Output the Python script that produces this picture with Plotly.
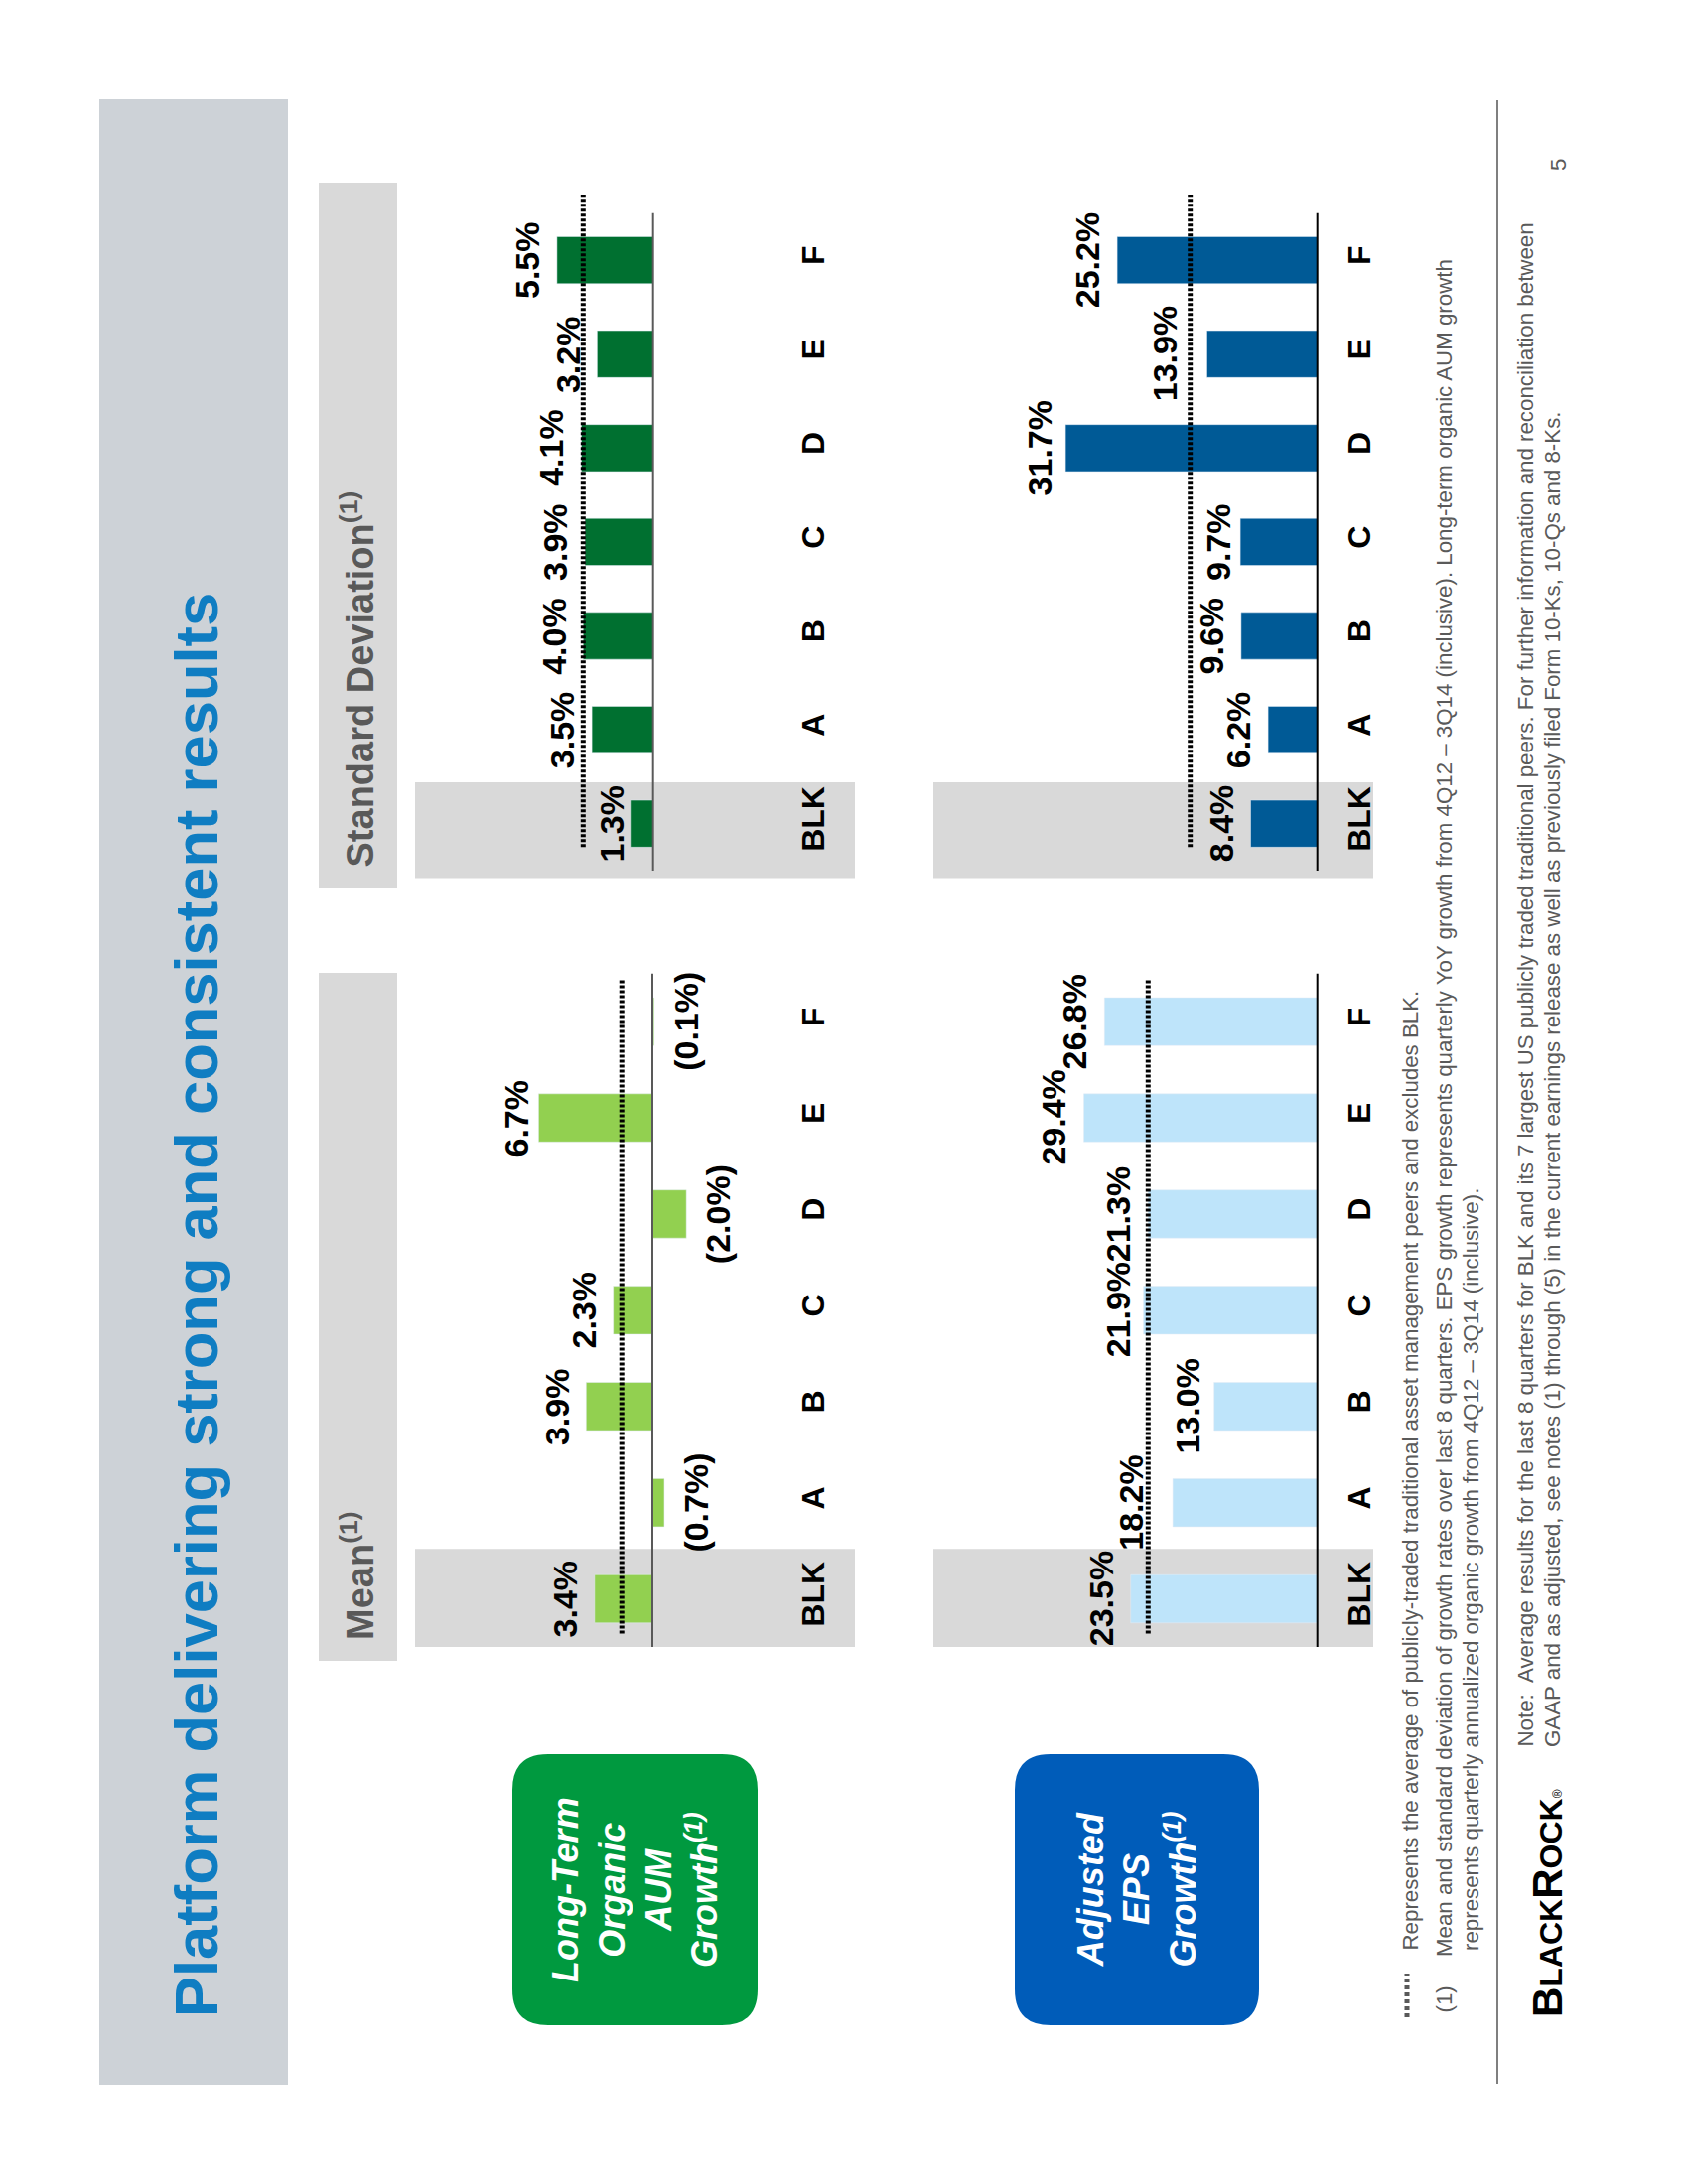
import plotly.graph_objects as go

# ---------------- data ----------------
categories = ["BLK", "A", "B", "C", "D", "E", "F"]
aum_mean = [3.4, -0.7, 3.9, 2.3, -2.0, 6.7, -0.1]
aum_std = [1.3, 3.5, 4.0, 3.9, 4.1, 3.2, 5.5]
eps_mean = [23.5, 18.2, 13.0, 21.9, 21.3, 29.4, 26.8]
eps_std = [8.4, 6.2, 9.6, 9.7, 31.7, 13.9, 25.2]
aum_mean_peer_avg = 1.8
aum_std_peer_avg = 4.0
eps_mean_peer_avg = 21.3
eps_std_peer_avg = 16.0

title_text = "Platform delivering strong and consistent results"
col_headers = ["Mean<sup>(1)</sup>", "Standard Deviation<sup>(1)</sup>"]
row_labels = ["Long-Term<br>Organic<br>AUM<br>Growth<sup>(1)</sup>", "Adjusted<br>EPS<br>Growth<sup>(1)</sup>"]
footnote_avg = "Represents the average of publicly-traded traditional asset management peers and excludes BLK."
footnote_1a = ("Mean and standard deviation of growth rates over last 8 quarters. EPS growth represents quarterly "
               "YoY growth from 4Q12 \u2013 3Q14 (inclusive). Long-term organic AUM growth")
footnote_1b = "represents quarterly annualized organic growth from 4Q12 \u2013 3Q14 (inclusive)."
note_a = ("Note:  Average results for the last 8 quarters for BLK and its 7 largest US publicly traded traditional "
          "peers. For further information and reconciliation between")
note_b = ("GAAP and as adjusted, see notes (1) through (5) in the current earnings release as well as previously "
          "filed Form 10-Ks, 10-Qs and 8-Ks.")
page_number = "5"

# ---------------- geometry helpers ----------------
W, H, M = 1700, 2200, 8
FONT = "Liberation Sans, Arial, Helvetica, sans-serif"


def X(px):
    return (px - M) / W


def Y(py):
    return 1 - (py - M) / H


def fmt(v):
    return f"{v:.1f}%" if v >= 0 else f"({abs(v):.1f}%)"


fig = go.Figure()
shapes = []
annotations = []

# title band
shapes.append(dict(type="rect", xref="paper", yref="paper", x0=X(100), x1=X(290), y0=Y(2100), y1=Y(100),
                   fillcolor="#CDD2D7", line=dict(width=0), layer="below"))
annotations.append(dict(xref="paper", yref="paper", x=X(197), y=Y(1315), text=f"<b>{title_text}</b>",
                        textangle=-90, showarrow=False, xanchor="center", yanchor="middle",
                        font=dict(family=FONT, size=61.5, color="#0F7DC2")))

# column headers
hdr_boxes = [(980, 1673), (184, 895)]
for txt, (y0, y1) in zip(col_headers, hdr_boxes):
    shapes.append(dict(type="rect", xref="paper", yref="paper", x0=X(321), x1=X(400), y0=Y(y1), y1=Y(y0),
                       fillcolor="#D9D9D9", line=dict(width=0), layer="below"))
    annotations.append(dict(xref="paper", yref="paper", x=X(360), y=Y(y1 - 19), text=f"<b>{txt}</b>",
                            textangle=-90, showarrow=False, xanchor="center", yanchor="bottom",
                            font=dict(family=FONT, size=38, color="#595959")))


# rounded row label boxes
def rounded(x0, y0, x1, y1, r):
    a, b, t, btm = X(x0), X(x1), Y(y0), Y(y1)
    rx, ry = r / W, r / H
    return (f"M {a+rx},{t} L {b-rx},{t} Q {b},{t} {b},{t-ry} L {b},{btm+ry} Q {b},{btm} {b-rx},{btm} "
            f"L {a+rx},{btm} Q {a},{btm} {a},{btm+ry} L {a},{t-ry} Q {a},{t} {a+rx},{t} Z")


row_boxes = [((516, 1767, 763, 2040), "#00993F"), ((1022, 1767, 1268, 2040), "#005CB9")]
for txt, ((x0, y0, x1, y1), col) in zip(row_labels, row_boxes):
    shapes.append(dict(type="path", xref="paper", yref="paper", path=rounded(x0, y0, x1, y1, 36),
                       fillcolor=col, line=dict(width=0), layer="below"))
    annotations.append(dict(xref="paper", yref="paper", x=X((x0 + x1) / 2), y=Y((y0 + y1) / 2),
                            text=f"<b><i>{txt}</i></b>", textangle=-90, showarrow=False,
                            xanchor="center", yanchor="middle",
                            font=dict(family=FONT, size=36, color="white")))

# ---------------- chart panels ----------------
mean_geom = dict(py_m05=1659, sp=96.9, yr=[-0.55, 6.55], box_y=[-0.5, 0.52], avg_y=[-0.36, 6.45])
std_geom = dict(py_m05=877, sp=94.6, yr=[-0.6, 6.75], box_y=[-0.58, 0.44], avg_y=[-0.25, 6.7])
aum_row = dict(xL=418, xR=783, boxL=418, boxR=861)
eps_row = dict(xL=940, xR=1333, boxL=940, boxR=1383)

# extra gap (px) between a value label and its bar end, where the slide moved a label
label_nudge = {(0, "E"): -8, (1, "BLK"): -11, (2, "A"): 12, (2, "B"): -3, (2, "C"): -4,
               (3, "C"): -8, (3, "D"): -4, (3, "E"): 13}

panels = [
    dict(vals=aum_mean, avg=aum_mean_peer_avg, color="#92D050", base=657.0, scale=17.1, row=aum_row,
         geom=mean_geom, basecol="#595959"),
    dict(vals=aum_std, avg=aum_std_peer_avg, color="#007030", base=657.7, scale=17.6, row=aum_row,
         geom=std_geom, basecol="#595959"),
    dict(vals=eps_mean, avg=eps_mean_peer_avg, color="#BEE4FA", base=1326.7, scale=8.0, row=eps_row,
         geom=mean_geom, basecol="#000000"),
    dict(vals=eps_std, avg=eps_std_peer_avg, color="#005A96", base=1326.7, scale=8.0, row=eps_row,
         geom=std_geom, basecol="#000000"),
]

layout_axes = {}
for i, p in enumerate(panels, start=1):
    sx = "" if i == 1 else str(i)
    xa, ya = f"x{sx}", f"y{sx}"
    r, g = p["row"], p["geom"]
    xr = [(p["base"] - r["xL"]) / p["scale"], -(r["xR"] - p["base"]) / p["scale"]]

    def pyi(idx, g=g):
        return g["py_m05"] - (idx + 0.5) * g["sp"]

    layout_axes[f"xaxis{sx}"] = dict(domain=[X(r["xL"]), X(r["xR"])], range=xr, anchor=ya,
                                     showgrid=False, zeroline=False, showticklabels=False,
                                     showline=False, ticks="", fixedrange=True)
    layout_axes[f"yaxis{sx}"] = dict(domain=[Y(pyi(g["yr"][0])), Y(pyi(g["yr"][1]))], range=g["yr"],
                                     anchor=xa, side="right", type="category",
                                     categoryorder="array", categoryarray=categories,
                                     showgrid=False, zeroline=False, showline=False, ticks="",
                                     tickangle=-90, ticklabelstandoff=14,
                                     tickfont=dict(family=FONT, size=32, color="black", weight="bold"),
                                     fixedrange=True)

    fig.add_trace(go.Bar(x=p["vals"], y=categories, orientation="h", marker=dict(color=p["color"]),
                         width=0.5, xaxis=xa, yaxis=ya, hoverinfo="x+y", showlegend=False))

    # BLK highlight box
    shapes.append(dict(type="rect", xref="paper", yref=ya, x0=X(r["boxL"]), x1=X(r["boxR"]),
                       y0=g["box_y"][0], y1=g["box_y"][1], fillcolor="#D9D9D9",
                       line=dict(width=0), layer="below"))
    # baseline
    shapes.append(dict(type="line", xref=xa, yref=ya, x0=0, x1=0, y0=-0.5, y1=6.5,
                       line=dict(color=p["basecol"], width=2), layer="above"))
    # peer average dotted line
    shapes.append(dict(type="line", xref=xa, yref=ya, x0=p["avg"], x1=p["avg"],
                       y0=g["avg_y"][0], y1=g["avg_y"][1],
                       line=dict(color="black", width=5, dash="3px,2px"), layer="above"))
    # value labels
    for c, v in zip(categories, p["vals"]):
        extra = label_nudge.get((i - 1, c), 0)
        annotations.append(dict(xref=xa, yref=ya, x=v, y=c, text=f"<b>{fmt(v)}</b>", textangle=-90,
                                showarrow=False, xanchor="right" if v >= 0 else "left", yanchor="middle",
                                xshift=-(10 + extra) if v >= 0 else (12 + extra), borderpad=0,
                                font=dict(family=FONT, size=34, color="black")))

# ---------------- footer ----------------
shapes.append(dict(type="line", xref="paper", yref="paper", x0=X(1417), x1=X(1417), y0=Y(2032), y1=Y(1988),
                   line=dict(color="#595959", width=5, dash="4px,3px")))
shapes.append(dict(type="line", xref="paper", yref="paper", x0=X(1508), x1=X(1508), y0=Y(2099), y1=Y(101),
                   line=dict(color="#7F7F7F", width=2)))

foot_font = dict(family=FONT, size=22.3, color="#5A5A5A")
for txt, xc, ys in [(footnote_avg, 1420, 1967), ("(1)", 1454, 2030), (footnote_1a, 1454, 1973),
                    (footnote_1b, 1481, 1967), (note_a, 1536, 1762), (note_b, 1563, 1762)]:
    annotations.append(dict(xref="paper", yref="paper", x=X(xc), y=Y(ys), text=txt, textangle=-90,
                            showarrow=False, xanchor="center", yanchor="bottom", font=foot_font))

annotations.append(dict(xref="paper", yref="paper", x=X(1570), y=Y(166), text=page_number, textangle=-90,
                        showarrow=False, xanchor="center", yanchor="middle", font=foot_font))

logo = ("<b>B<span style='font-size:32px'>LACK</span>R<span style='font-size:32px'>OCK</span></b>"
        "<span style='font-size:12px'>\u00ae</span>")
annotations.append(dict(xref="paper", yref="paper", x=X(1558), y=Y(2034), text=logo, textangle=-90,
                        showarrow=False, xanchor="center", yanchor="bottom",
                        font=dict(family=FONT, size=42, color="black")))

fig.update_layout(width=W, height=H, margin=dict(l=0, r=0, t=0, b=0), paper_bgcolor="white",
                  plot_bgcolor="rgba(0,0,0,0)", showlegend=False, bargap=0.5,
                  shapes=shapes, annotations=annotations, font=dict(family=FONT), **layout_axes)

fig.write_html("out.html")
